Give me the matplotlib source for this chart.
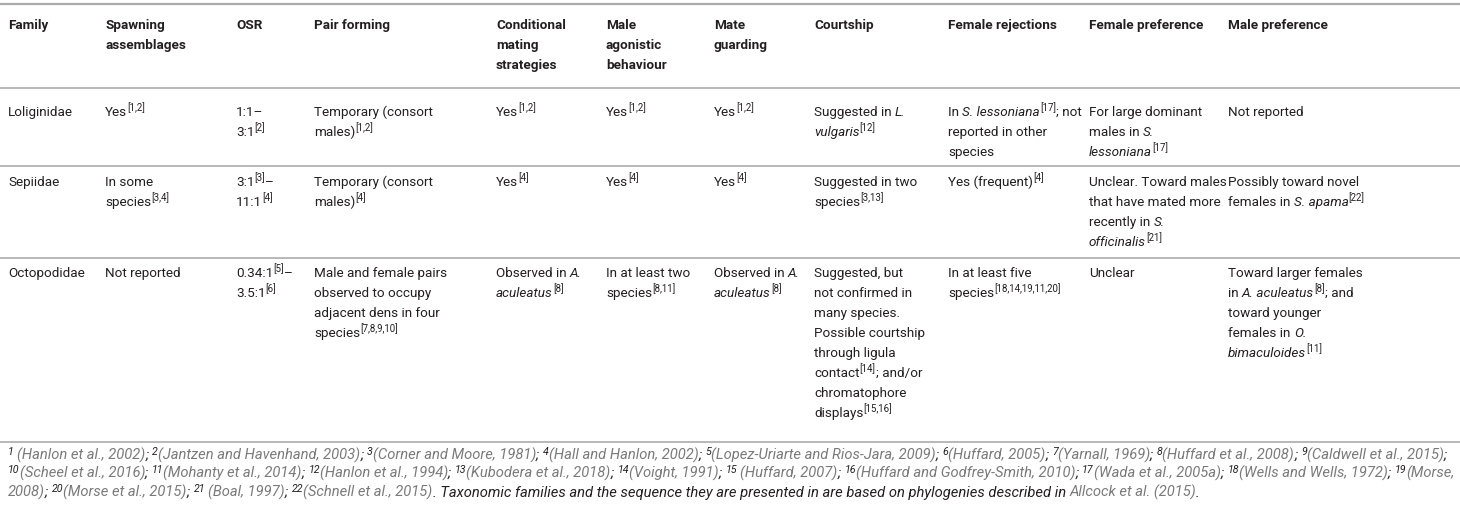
import re
import matplotlib
matplotlib.use("Agg")
import matplotlib.pyplot as plt

W, H = 1460, 512
FONT = ["Roboto", "DejaVu Sans"]
INK = "#231f20"
LINK = "#7a7a7a"
RULE = "#ababab"

# markup: *italic*  ^superscript^  ~grey (link) text~
HEADERS = ["Family", "Spawning\nassemblages", "OSR", "Pair forming",
           "Conditional\nmating\nstrategies", "Male\nagonistic\nbehaviour",
           "Mate\nguarding", "Courtship", "Female rejections",
           "Female preference", "Male preference"]

FAMILIES = ["Loliginidae", "Sepiidae", "Octopodidae"]

LOLIGINIDAE = [
    "Yes^[1,2]^",
    "1:1–\n3:1^[2]^",
    "Temporary (consort\nmales)^[1,2]^",
    "Yes^[1,2]^",
    "Yes^[1,2]^",
    "Yes^[1,2]^",
    "Suggested in *L.*\n*vulgaris*^[12]^",
    "In *S. lessoniana*^[17]^; not\nreported in other\nspecies",
    "For large dominant\nmales in *S.*\n*lessoniana*^[17]^",
    "Not reported",
]

SEPIIDAE = [
    "In some\nspecies^[3,4]^",
    "3:1^[3]^–\n11:1^[4]^",
    "Temporary (consort\nmales)^[4]^",
    "Yes^[4]^",
    "Yes^[4]^",
    "Yes^[4]^",
    "Suggested in two\nspecies^[3,13]^",
    "Yes (frequent)^[4]^",
    "Unclear. Toward males\nthat have mated more\nrecently in *S.*\n*officinalis*^[21]^",
    "Possibly toward novel\nfemales in *S. apama*^[22]^",
]

OCTOPODIDAE = [
    "Not reported",
    "0.34:1^[5]^–\n3.5:1^[6]^",
    "Male and female pairs\nobserved to occupy\nadjacent dens in four\nspecies^[7,8,9,10]^",
    "Observed in *A.*\n*aculeatus*^[8]^",
    "In at least two\nspecies^[8,11]^",
    "Observed in *A.*\n*aculeatus*^[8]^",
    "Suggested, but\nnot confirmed in\nmany species.\nPossible courtship\nthrough ligula\ncontact^[14]^; and/or\nchromatophore\ndisplays^[15,16]^",
    "In at least five\nspecies^[18,14,19,11,20]^",
    "Unclear",
    "Toward larger females\nin *A. aculeatus*^[8]^; and\ntoward younger\nfemales in *O.*\n*bimaculoides*^[11]^",
]

FOOTNOTE = [
    "^1^ ~(Hanlon et al., 2002)~; ^2^~(Jantzen and Havenhand, 2003)~; ^3^~(Corner and Moore, 1981)~; "
    "^4^~(Hall and Hanlon, 2002)~; ^5^~(Lopez-Uriarte and Rios-Jara, 2009)~; ^6^~(Huffard, 2005)~; "
    "^7^~(Yarnall, 1969)~; ^8^~(Huffard et al., 2008)~; ^9^~(Caldwell et al., 2015)~;",
    "^10^~(Scheel et al., 2016)~; ^11^~(Mohanty et al., 2014)~; ^12^~(Hanlon et al., 1994)~; "
    "^13^~(Kubodera et al., 2018)~; ^14^~(Voight, 1991)~; ^15^ ~(Huffard, 2007)~; "
    "^16^~(Huffard and Godfrey-Smith, 2010)~; ^17^~(Wada et al., 2005a)~; ^18^~(Wells and Wells, 1972)~; ^19^~(Morse,~",
    "~2008)~; ^20^~(Morse et al., 2015)~; ^21^ ~(Boal, 1997)~; ^22^~(Schnell et al., 2015)~. "
    "Taxonomic families and the sequence they are presented in are based on phylogenies described in ~Allcock et al. (2015)~.",
]

COL_X = [8, 105, 236, 314, 496, 606, 714, 814, 948, 1089, 1228]
RULES_Y = [4, 88, 166, 258, 442]
ROW_BASE = [29, 116, 186, 277]
FOOT_BASE = [460, 478, 497]
LINE_H = 20.0
BODY_PT = 9.7
FOOT_PT = 9.4
FOOT_RIGHT = 1447

fig = plt.figure(figsize=(W / 100, H / 100), dpi=100)
ax = fig.add_axes([0, 0, 1, 1])
ax.set_xlim(0, W)
ax.set_ylim(H, 0)
ax.axis("off")
renderer = fig.canvas.get_renderer()

TOKEN = re.compile(r"(\*[^*]*\*|\^[^^]*\^|~[^~]*~)")


def text_w(s, **kw):
    t1 = ax.text(0, 0, "|" + s + "|", **kw)
    t0 = ax.text(0, 0, "||", **kw)
    w = t1.get_window_extent(renderer).width - t0.get_window_extent(renderer).width
    t1.remove()
    t0.remove()
    return w


def pieces(line, size, weight, style):
    out = []
    for tok in TOKEN.split(line):
        if not tok:
            continue
        fs, dy, st, col = size, 0, style, INK
        if tok[0] == "*":
            tok, st = tok[1:-1], "italic"
        elif tok[0] == "^":
            tok, fs, dy = tok[1:-1], size * 0.72, -size * 0.5
        elif tok[0] == "~":
            tok, col = tok[1:-1], LINK
        out.append((tok, dy, col, dict(fontsize=fs, fontweight=weight,
                                        fontstyle=st, family=FONT)))
    return out


def line_w(line, size, weight="normal", style="normal"):
    return sum(text_w(t, **kw) for t, _, _, kw in pieces(line, size, weight, style))


def draw_line(x, y, line, size, weight="normal", style="normal"):
    for tok, dy, col, kw in pieces(line, size, weight, style):
        ax.text(x, y + dy, tok, color=col, va="baseline", ha="left", **kw)
        x += text_w(tok, **kw)


def draw_cell(x, y, cell, weight="normal"):
    for i, line in enumerate(cell.split("\n")):
        draw_line(x, y + i * LINE_H, line, BODY_PT, weight=weight)


# rules
for i, ry in enumerate(RULES_Y):
    ax.plot([0, W], [ry, ry], color=RULE, lw=1.6 if i == 0 else 1.2,
            solid_capstyle="butt")

for x, head in zip(COL_X, HEADERS):
    draw_cell(x, ROW_BASE[0], head, weight="bold")

for r, (fam, cells) in enumerate(zip(FAMILIES, [LOLIGINIDAE, SEPIIDAE, OCTOPODIDAE])):
    y0 = ROW_BASE[r + 1]
    draw_cell(COL_X[0], y0, fam)
    for x, cell in zip(COL_X[1:], cells):
        draw_cell(x, y0, cell)

# footnote: scale so the first line runs across the table width
fpt = FOOT_PT * (FOOT_RIGHT - 8) / line_w(FOOTNOTE[0], FOOT_PT, style="italic")
for y, line in zip(FOOT_BASE, FOOTNOTE):
    draw_line(8, y, line, fpt, style="italic")

fig.savefig("out.png", dpi=100, facecolor="white")
